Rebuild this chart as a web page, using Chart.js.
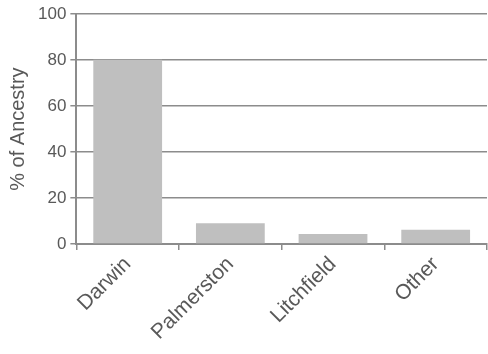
<!DOCTYPE html>
<html lang="en">
<head>
    <meta charset="UTF-8">
    <title>% of Ancestry</title>
    <script src="https://cdn.jsdelivr.net/npm/chart.js"></script>
</head>
<body>
    <style>
        body{ margin: 0; background: #fff; }
        div{ width: 488px; height: 354px; }
    </style>
    <div>
        <canvas id="myChart" width="488" height="354"></canvas>
    </div>

    <script>
        // chart data
        const places = ['Darwin', 'Palmerston', 'Litchfield', 'Other'];
        const ancestry = [80.2, 9, 4.3, 6.2];
        const yTicks = [0, 20, 40, 60, 80, 100];

        const textColor = '#595959';
        const lineColor = '#8c8c8c';
        const family = 'Liberation Sans, Arial';

        const config = {
            type: 'bar',
            data: {
                labels: places,
                datasets: [{
                    data: ancestry,
                    backgroundColor: '#bfbfbf',
                    borderWidth: 0,
                    barPercentage: 0.67,
                    categoryPercentage: 1
                }]
            },
            options: {
                responsive: false,
                animation: false,
                layout: { padding: { top: 10, right: 1, left: 6, bottom: 0 } },
                plugins: {
                    legend: { display: false },
                    tooltip: { enabled: false }
                },
                scales: {
                    x: {
                        afterFit: scale => { scale.height = 110; },
                        grid: {
                            drawOnChartArea: false,
                            drawTicks: true,
                            tickLength: 6,
                            color: lineColor,
                            lineWidth: 1.5
                        },
                        border: { color: lineColor, width: 2 },
                        ticks: {
                            color: textColor,
                            font: { family: family, size: 21 },
                            maxRotation: 45,
                            minRotation: 45,
                            padding: 2
                        }
                    },
                    y: {
                        min: 0,
                        max: 100,
                        afterBuildTicks: axis => {
                            axis.ticks = yTicks.map(v => ({ value: v }));
                        },
                        grid: {
                            color: lineColor,
                            lineWidth: 1.5,
                            tickLength: 6
                        },
                        border: { color: lineColor, width: 2 },
                        ticks: {
                            color: textColor,
                            font: { family: family, size: 17 },
                            padding: 4
                        },
                        title: {
                            display: true,
                            text: '% of Ancestry',
                            color: textColor,
                            font: { family: family, size: 20 },
                            padding: { top: 0, bottom: 4 }
                        }
                    }
                }
            }
        };

        const ctx = document.getElementById('myChart').getContext('2d');
        const myChart = new Chart(ctx, config);
    </script>
</body>
</html>
